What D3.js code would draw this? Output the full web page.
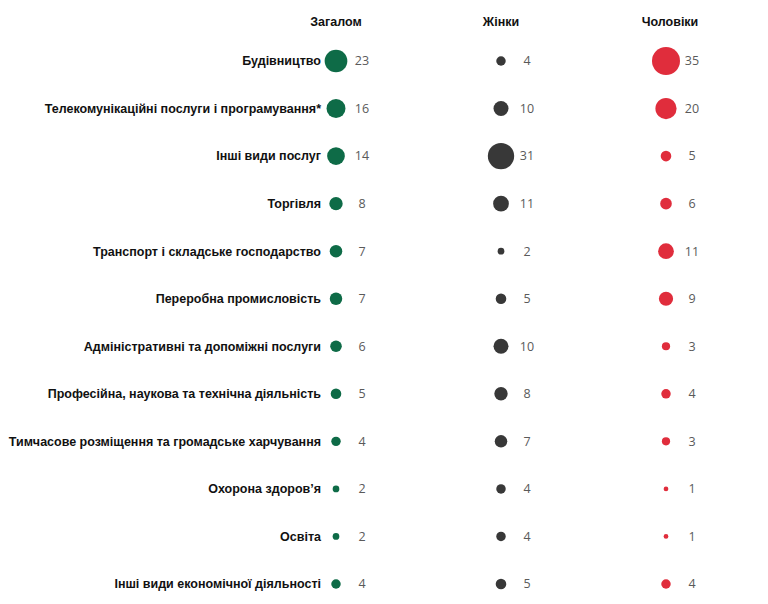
<!DOCTYPE html>
<html><head><meta charset="utf-8">
<script src="https://cdn.jsdelivr.net/npm/d3@7"></script>
<style>body{margin:0;background:#fff}</style>
</head><body>
<script>
const categories = ["Будівництво","Телекомунікаційні послуги і програмування*","Інші види послуг","Торгівля","Транспорт і складське господарство","Переробна промисловість","Адміністративні та допоміжні послуги","Професійна, наукова та технічна діяльність","Тимчасове розміщення та громадське харчування","Охорона здоров’я","Освіта","Інші види економічної діяльності"];
const seriesNames = ["Загалом","Жінки","Чоловіки"];
const total = [23,16,14,8,7,7,6,5,4,2,2,4];
const women = [4,10,31,11,2,5,10,8,7,4,4,5];
const men = [35,20,5,6,11,9,3,4,3,1,1,4];
const colors = ["#0e6b47","#383838","#e02d3c"];

const W=768,H=604;
const svg=d3.select("body").append("svg").attr("width",W).attr("height",H);
const x=d3.scalePoint().domain(seriesNames).range([336,666]);
const y=d3.scalePoint().domain(categories).range([61,584]);
const r=d3.scaleSqrt().domain([0,35]).range([0,14]);
const series=[total,women,men];

svg.selectAll(".hdr").data(seriesNames).join("text")
  .attr("x",(d,i)=>x(d)+(i===2?4:0)).attr("y",26).attr("text-anchor","middle")
  .attr("font-family","Liberation Sans, Arial, sans-serif").attr("font-weight","bold")
  .attr("font-size",12.5).attr("fill","#111").text(d=>d);

svg.selectAll(".cat").data(categories).join("text")
  .attr("x",321).attr("y",d=>y(d)).attr("dy","0.35em").attr("text-anchor","end")
  .attr("font-family","Liberation Sans, Arial, sans-serif").attr("font-weight","bold")
  .attr("font-size",12.5).attr("fill","#111").text(d=>d);

series.forEach((vals,si)=>{
  const g=svg.append("g");
  g.selectAll("circle").data(vals).join("circle")
    .attr("cx",x(seriesNames[si])).attr("cy",(d,i)=>y(categories[i])).attr("r",d=>r(d))
    .attr("fill",colors[si]);
  g.selectAll("text").data(vals).join("text")
    .attr("x",x(seriesNames[si])+26).attr("y",(d,i)=>y(categories[i])).attr("dy","0.35em")
    .attr("text-anchor","middle").attr("font-family","Open Sans, sans-serif")
    .attr("font-size",12.5).attr("fill","#5a5a5a").text(d=>d);
});
</script>
</body></html>
